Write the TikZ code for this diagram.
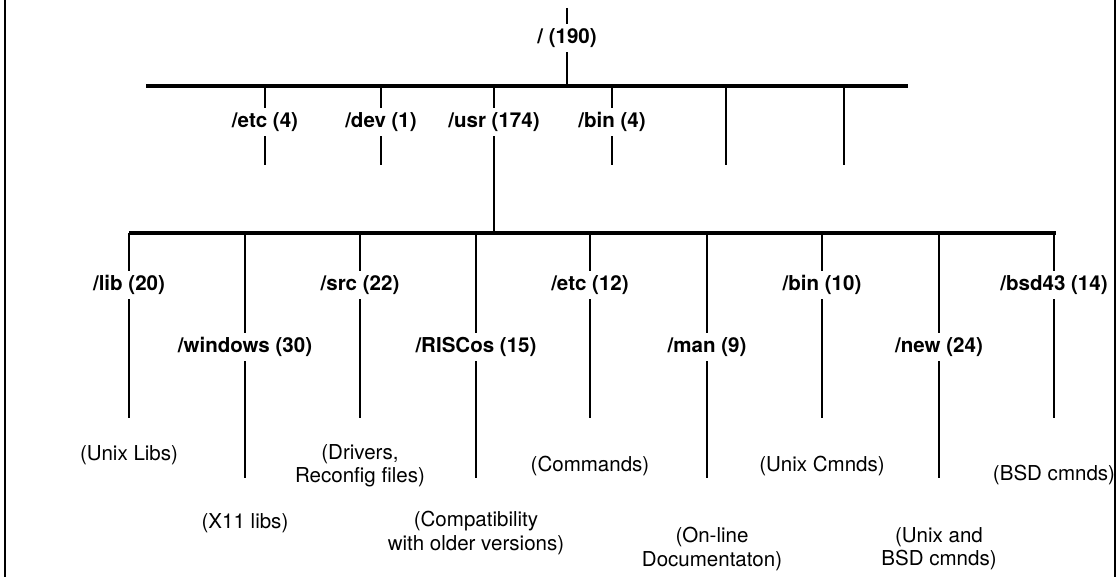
\documentclass[tikz,border=0pt]{standalone}
\usepackage{fontspec}
\setmainfont{TeX Gyre Heros}
\usetikzlibrary{positioning}

\begin{document}
\begin{tikzpicture}[
    x=0.025cm, y=-0.025cm,
    dirNode/.style={inner sep=3pt, font=\fontsize{14.6}{16}\selectfont\bfseries},
    noteNode/.style={inner sep=0pt, align=center, font=\fontsize{14.6}{16.5}\selectfont},
    barLine/.style={line width=2.5pt},
    branchLine/.style={line width=2pt},
    frameLine/.style={line width=1.6pt}]

  \useasboundingbox (0,0) rectangle (1120,577);

  % Frame
  \draw[frameLine] (5,0) -- (5,577);
  \draw[frameLine] (1115,0) -- (1115,577);

  % Root
  \coordinate (rootTop) at (567,8);
  \node[dirNode] (root) at (567,38) {/ (190)};
  \coordinate (bar1L) at (146,86);
  \coordinate (bar1R) at (908,86);
  \coordinate (rootBar) at (567,86);
  \draw[branchLine] (rootTop) -- (root.north);
  \draw[branchLine] (root.south) -- (rootBar);
  \draw[barLine] (bar1L) -- (bar1R);

  % First level
  \node[dirNode] (etc1) at (265,122) {/etc (4)};
  \node[dirNode] (dev1) at (381,122) {/dev (1)};
  \node[dirNode] (usr1) at (494,122) {/usr (174)};
  \node[dirNode] (bin1) at (612,122) {/bin (4)};
  \coordinate (etc1Top) at (265,86);   \coordinate (etc1End) at (265,165);
  \coordinate (dev1Top) at (381,86);   \coordinate (dev1End) at (381,165);
  \coordinate (usr1Top) at (494,86);
  \coordinate (bin1Top) at (612,86);   \coordinate (bin1End) at (612,165);
  \coordinate (blankATop) at (726,86); \coordinate (blankAEnd) at (726,165);
  \coordinate (blankBTop) at (844,86); \coordinate (blankBEnd) at (844,165);

  \draw[branchLine] (etc1Top) -- (etc1.north);
  \draw[branchLine] (etc1.south) -- (etc1End);
  \draw[branchLine] (dev1Top) -- (dev1.north);
  \draw[branchLine] (dev1.south) -- (dev1End);
  \draw[branchLine] (usr1Top) -- (usr1.north);
  \draw[branchLine] (bin1Top) -- (bin1.north);
  \draw[branchLine] (bin1.south) -- (bin1End);
  \draw[branchLine] (blankATop) -- (blankAEnd);
  \draw[branchLine] (blankBTop) -- (blankBEnd);

  % Second level bar
  \coordinate (usrBar) at (494,233);
  \coordinate (bar2L) at (129,233);
  \coordinate (bar2R) at (1056,233);
  \draw[branchLine] (usr1.south) -- (usrBar);
  \draw[barLine] (bar2L) -- (bar2R);

  % Second level
  \node[dirNode] (lib) at (129,285) {/lib (20)};
  \node[dirNode] (win) at (245,347) {/windows (30)};
  \node[dirNode] (src) at (360,285) {/src (22)};
  \node[dirNode] (risc) at (476,347) {/RISCos (15)};
  \node[dirNode] (etc2) at (590,285) {/etc (12)};
  \node[dirNode] (man) at (707,347) {/man (9)};
  \node[dirNode] (bin2) at (822,285) {/bin (10)};
  \node[dirNode] (new) at (939,347) {/new (24)};
  \node[dirNode] (bsd) at (1054,285) {/bsd43 (14)};

  \coordinate (libTop) at (129,233);  \coordinate (libEnd) at (129,418);
  \coordinate (winTop) at (245,233);  \coordinate (winEnd) at (245,478);
  \coordinate (srcTop) at (360,233);  \coordinate (srcEnd) at (360,418);
  \coordinate (riscTop) at (476,233); \coordinate (riscEnd) at (476,478);
  \coordinate (etc2Top) at (590,233); \coordinate (etc2End) at (590,418);
  \coordinate (manTop) at (707,233);  \coordinate (manEnd) at (707,478);
  \coordinate (bin2Top) at (822,233); \coordinate (bin2End) at (822,418);
  \coordinate (newTop) at (939,233);  \coordinate (newEnd) at (939,478);
  \coordinate (bsdTop) at (1054,233); \coordinate (bsdEnd) at (1054,418);

  \draw[branchLine] (libTop) -- (lib.north);   \draw[branchLine] (lib.south) -- (libEnd);
  \draw[branchLine] (winTop) -- (win.north);   \draw[branchLine] (win.south) -- (winEnd);
  \draw[branchLine] (srcTop) -- (src.north);   \draw[branchLine] (src.south) -- (srcEnd);
  \draw[branchLine] (riscTop) -- (risc.north); \draw[branchLine] (risc.south) -- (riscEnd);
  \draw[branchLine] (etc2Top) -- (etc2.north); \draw[branchLine] (etc2.south) -- (etc2End);
  \draw[branchLine] (manTop) -- (man.north);   \draw[branchLine] (man.south) -- (manEnd);
  \draw[branchLine] (bin2Top) -- (bin2.north); \draw[branchLine] (bin2.south) -- (bin2End);
  \draw[branchLine] (newTop) -- (new.north);   \draw[branchLine] (new.south) -- (newEnd);
  \draw[branchLine] (bsdTop) -- (bsd.north);   \draw[branchLine] (bsd.south) -- (bsdEnd);

  % Descriptions
  \node[noteNode] (libNote) at (129,455) {(Unix Libs)};
  \node[noteNode] (winNote) at (245,523) {(X11 libs)};
  \node[noteNode] (srcNote) at (360,466) {(Drivers,\\Reconfig files)};
  \node[noteNode] (riscNote) at (476,533) {(Compatibility\\with older versions)};
  \node[noteNode] (etc2Note) at (590,466) {(Commands)};
  \node[noteNode] (manNote) at (712,549) {(On-line\\Documentaton)};
  \node[noteNode] (bin2Note) at (822,466) {(Unix Cmnds)};
  \node[noteNode] (newNote) at (939,549) {(Unix and\\BSD cmnds)};
  \node[noteNode] (bsdNote) at (1054,475) {(BSD cmnds)};

\end{tikzpicture}
\end{document}
